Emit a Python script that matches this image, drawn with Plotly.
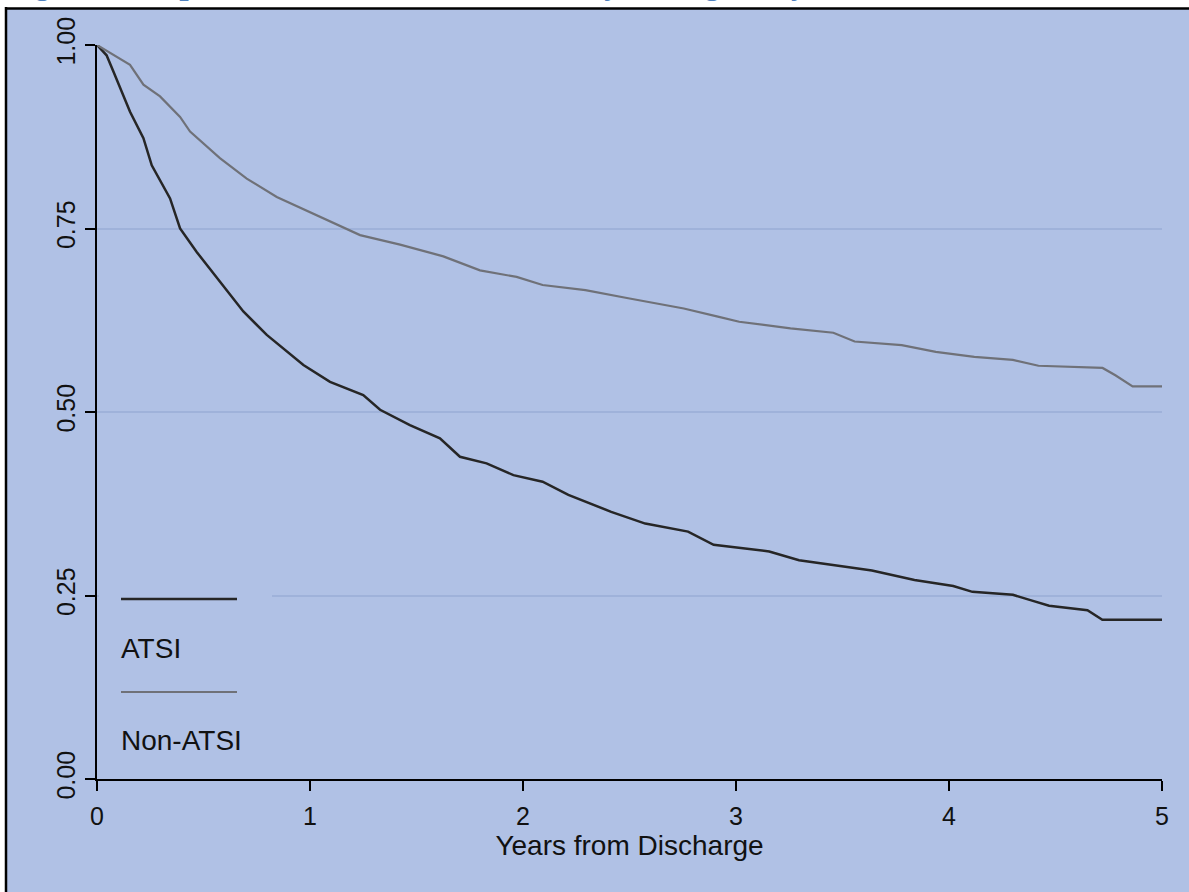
import plotly.graph_objects as go

# Kaplan-Meier survival estimates, years from discharge
atsi_years = [0.0, 0.045, 0.077, 0.155, 0.218, 0.257, 0.343, 0.390, 0.468, 0.577,
              0.687, 0.797, 0.969, 1.094, 1.250, 1.329, 1.469, 1.610, 1.704, 1.829,
              1.955, 2.092, 2.213, 2.414, 2.574, 2.775, 2.895, 3.156, 3.296, 3.497,
              3.638, 3.838, 4.020, 4.110, 4.300, 4.390, 4.470, 4.650, 4.720, 5.000]
atsi_surv = [1.000, 0.986, 0.964, 0.909, 0.873, 0.836, 0.791, 0.750, 0.718, 0.678,
             0.637, 0.605, 0.564, 0.541, 0.523, 0.503, 0.482, 0.464, 0.439, 0.430,
             0.414, 0.405, 0.387, 0.364, 0.348, 0.337, 0.319, 0.310, 0.298, 0.290,
             0.284, 0.271, 0.263, 0.255, 0.251, 0.243, 0.236, 0.230, 0.217, 0.217]

non_atsi_years = [0.0, 0.061, 0.155, 0.218, 0.296, 0.390, 0.437, 0.577, 0.703, 0.844,
                  1.047, 1.235, 1.423, 1.626, 1.798, 1.970, 2.092, 2.293, 2.494, 2.755,
                  2.915, 3.015, 3.256, 3.457, 3.557, 3.778, 3.938, 4.119, 4.300, 4.420,
                  4.721, 4.781, 4.862, 5.000]
non_atsi_surv = [1.000, 0.989, 0.973, 0.946, 0.930, 0.902, 0.882, 0.846, 0.818, 0.793,
                 0.766, 0.741, 0.728, 0.712, 0.693, 0.684, 0.673, 0.666, 0.655, 0.641,
                 0.630, 0.623, 0.614, 0.608, 0.596, 0.591, 0.582, 0.575, 0.571, 0.563,
                 0.560, 0.550, 0.535, 0.535]

x_ticks = [0, 1, 2, 3, 4, 5]
y_ticks = [0.0, 0.25, 0.5, 0.75, 1.0]
y_tick_text = ["0.00", "0.25", "0.50", "0.75", "1.00"]
group_names = ["ATSI", "Non-ATSI"]
title_text = "Figure 3: Kaplan-Meier survival estimates by Aboriginality"

W, H = 1189, 892
ML, MR, MT, MB = 97, 27, 45, 113
PW, PH = W - ML - MR, H - MT - MB

BG = "#B0C1E5"
GRID = "#9FB2DA"
DARK = "#262626"
GREY = "#6F7178"
FONT = "Liberation Sans, Arial, sans-serif"


def fx(px):
    return (px - ML) / PW


def fy(py):
    return (H - MB - py) / PH


fig = go.Figure()
fig.add_trace(go.Scatter(x=atsi_years, y=atsi_surv, mode="lines", name=group_names[0],
                         line=dict(color=DARK, width=2.5), showlegend=False))
fig.add_trace(go.Scatter(x=non_atsi_years, y=non_atsi_surv, mode="lines", name=group_names[1],
                         line=dict(color=GREY, width=2.2), showlegend=False))

shapes = [
    # white page strips above and left of the graph region
    dict(type="rect", xref="paper", yref="paper", x0=fx(0), x1=fx(W), y0=fy(8), y1=fy(-5),
         fillcolor="white", line=dict(width=0), layer="below"),
    dict(type="rect", xref="paper", yref="paper", x0=fx(-5), x1=fx(5), y0=fy(H + 5), y1=fy(0),
         fillcolor="white", line=dict(width=0), layer="below"),
    # frame edges
    dict(type="line", xref="paper", yref="paper", x0=fx(5), x1=fx(W + 5), y0=fy(8.5), y1=fy(8.5),
         line=dict(color="black", width=2.5), layer="above"),
    dict(type="line", xref="paper", yref="paper", x0=fx(6), x1=fx(6), y0=fy(7), y1=fy(H + 5),
         line=dict(color="black", width=2.5), layer="above"),
    # legend backing over the 0.25 grid line
    dict(type="rect", xref="paper", yref="paper", x0=fx(99), x1=fx(272), y0=fy(604), y1=fy(590),
         fillcolor=BG, line=dict(width=0), layer="above"),
    # legend keys
    dict(type="line", xref="paper", yref="paper", x0=fx(121), x1=fx(237), y0=fy(599), y1=fy(599),
         line=dict(color=DARK, width=2.5), layer="above"),
    dict(type="line", xref="paper", yref="paper", x0=fx(121), x1=fx(237), y0=fy(692), y1=fy(692),
         line=dict(color=GREY, width=2.2), layer="above"),
]

annotations = [
    dict(text=group_names[0], xref="paper", yref="paper", x=fx(119), y=fy(648),
         xanchor="left", yanchor="middle", showarrow=False,
         font=dict(family=FONT, size=28, color="#111111")),
    dict(text=group_names[1], xref="paper", yref="paper", x=fx(119), y=fy(740),
         xanchor="left", yanchor="middle", showarrow=False,
         font=dict(family=FONT, size=28, color="#111111")),
    # caption sits above the top edge of the page; only its descenders show
    dict(text="<b><i>" + title_text + "</i></b>", xref="paper", yref="paper",
         x=fx(3), y=fy(-17), xanchor="left", yanchor="middle", showarrow=False,
         font=dict(family="Liberation Serif, serif", size=33, color="#4F81BD")),
]

fig.update_layout(
    width=W, height=H,
    margin=dict(l=ML, r=MR, t=MT, b=MB, pad=0),
    paper_bgcolor=BG, plot_bgcolor=BG,
    font=dict(family=FONT, size=25, color="#111111"),
    shapes=shapes, annotations=annotations,
    xaxis=dict(range=[0, 5], tickvals=x_ticks, ticktext=[str(v) for v in x_ticks],
               showgrid=False, zeroline=False, showline=True, linecolor="black", linewidth=2,
               ticks="outside", ticklen=10, tickwidth=2, tickcolor="black",
               tickfont=dict(size=25), ticklabelstandoff=4,
               title=dict(text="Years from Discharge", font=dict(size=28), standoff=2)),
    yaxis=dict(range=[0, 1], tickvals=y_ticks, ticktext=y_tick_text, tickangle=-90,
               showgrid=True, gridcolor=GRID, gridwidth=2, zeroline=False,
               showline=True, linecolor="black", linewidth=2,
               ticks="outside", ticklen=10, tickwidth=2, tickcolor="black",
               tickfont=dict(size=25)),
)

fig.write_html("out.html")
